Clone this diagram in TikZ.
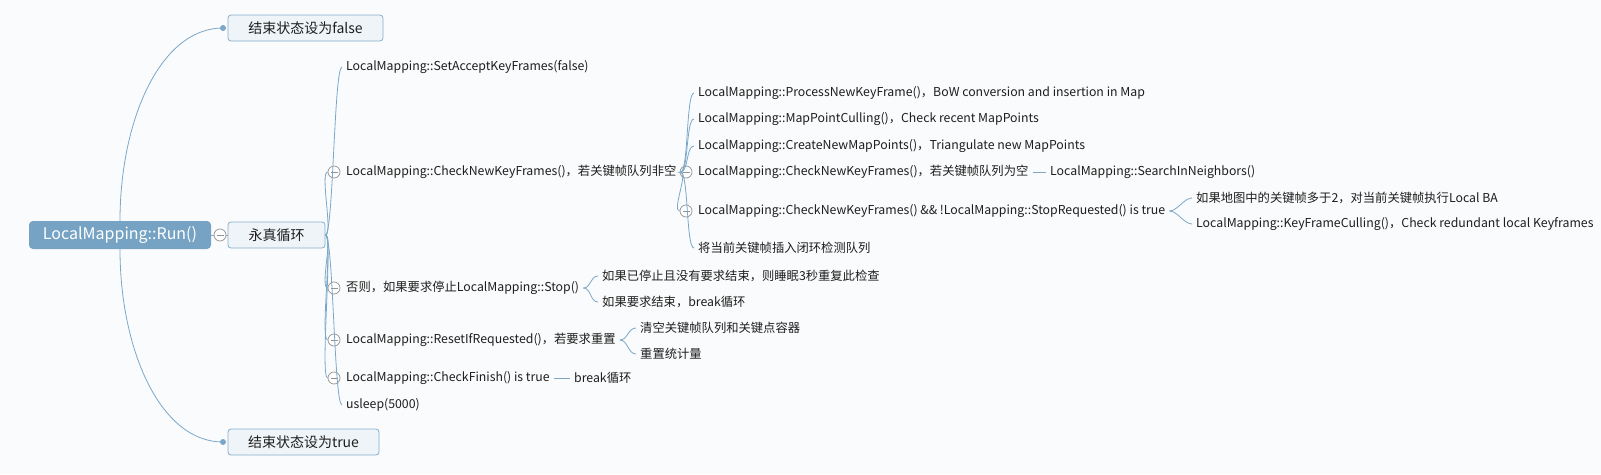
\documentclass[tikz,border=0pt]{standalone}
\usepackage{fontspec}
\setmainfont{Noto Sans CJK SC}
\usetikzlibrary{arrows.meta}
\definecolor{lineblue}{HTML}{7BA7C8}
\definecolor{rootblue}{HTML}{76A3C3}
\definecolor{boxfill}{HTML}{EEF4F8}
\definecolor{boxline}{HTML}{86AFCC}
\definecolor{bgcol}{HTML}{FAFBFC}
\definecolor{ink}{HTML}{1E1E1E}
\tikzset{
  fold/.style={circle, draw=gray!85, fill=white, line width=0.7pt, minimum size=12pt, inner sep=0pt,
    path picture={\draw[gray!85, line width=0.7pt] ([xshift=-3.5pt]path picture bounding box.center) -- ([xshift=3.5pt]path picture bounding box.center);}},
  leaf/.style={anchor=west, inner xsep=4pt, inner ysep=2pt, font=\fontsize{12.3}{14}\selectfont, text=ink},
  topic/.style={draw=boxline, fill=boxfill, rounded corners=3pt, line width=0.8pt, font=\fontsize{14}{16}\selectfont, text=ink, minimum height=26pt},
  dot/.style={circle, fill=lineblue, inner sep=0pt, minimum size=6pt},
  branch/.style={to path={.. controls +(8,0) and +(-8,0) .. (\tikztotarget)}},
  straight/.style={to path={-- (\tikztotarget)}}
}
\begin{document}
\begin{tikzpicture}[x=1pt, y=-1pt]
\fill[bgcol] (0,0) rectangle (1601,474);
\useasboundingbox (0,0) rectangle (1601,474);

\node[fill=rootblue, rounded corners=4pt, text=white, font=\fontsize{16}{18}\selectfont, minimum width=182pt, minimum height=28pt] (R) at (120,235) {LocalMapping::Run()};
\node[topic, minimum width=97pt] (L) at (276.5,235) {永真循环};
\node[topic, minimum width=155pt] (F) at (305.5,28) {结束状态设为false};
\node[topic, minimum width=151pt] (T) at (303.5,442) {结束状态设为true};
\node[dot] (f0) at (223,28) {};
\node[dot] (t0) at (223,442) {};

\begin{scope}[every node/.style={fold}]
    \node (r0) at (220,235) {};
    \node (c1) at (334,172) {};
    \node (c2) at (334,288) {};
    \node (c3) at (334,340) {};
    \node (c4) at (334,378) {};
    \node (c5) at (686,172) {};
    \node (c6) at (686,211) {};
\end{scope}

\begin{scope}[every node/.style={leaf}]
    \node (sa) at (342,67) {LocalMapping::SetAcceptKeyFrames(false)};
    \node (ck) at (342,172) {LocalMapping::CheckNewKeyFrames()，若关键帧队列非空};
    \node (st) at (342,288) {否则，如果要求停止LocalMapping::Stop()};
    \node (rs) at (342,340) {LocalMapping::ResetIfRequested()，若要求重置};
    \node (fn) at (342,378) {LocalMapping::CheckFinish() is true};
    \node (us) at (342,405) {usleep(5000)};

    \node (pn) at (694,93) {LocalMapping::ProcessNewKeyFrame()，BoW conversion and insertion in Map};
    \node (mc) at (694,119) {LocalMapping::MapPointCulling()，Check recent MapPoints};
    \node (cn) at (694,146) {LocalMapping::CreateNewMapPoints()，Triangulate new MapPoints};
    \node (em) at (694,172) {LocalMapping::CheckNewKeyFrames()，若关键帧队列为空};
    \node (sr) at (694,211) {LocalMapping::CheckNewKeyFrames() \&\& !LocalMapping::StopRequested() is true};
    \node (lc) at (694,248) {将当前关键帧插入闭环检测队列};

    \node (sn) at (1046,172) {LocalMapping::SearchInNeighbors()};
    \node (ba) at (1192,198) {如果地图中的关键帧多于2，对当前关键帧执行Local BA};
    \node (kf) at (1192,224) {LocalMapping::KeyFrameCulling()，Check redundant local Keyframes};

    \node (s1) at (598,276) {如果已停止且没有要求结束，则睡眠3秒重复此检查};
    \node (s2) at (598,302) {如果要求结束，break循环};
    \node (e1) at (636,328) {清空关键帧队列和关键点容器};
    \node (e2) at (636,354) {重置统计量};
    \node (bk) at (570,378) {break循环};
\end{scope}

\begin{scope}[every edge/.style={draw=lineblue, line width=0.8pt, branch}]
    \path (R.north) edge[to path={.. controls +(0,-100) and +(-63,0) .. (\tikztotarget)}] (f0.center);
    \path (R.south) edge[to path={.. controls +(0,100) and +(-63,0) .. (\tikztotarget)}] (t0.center);
    \path (R) edge[straight] (r0);
    \path (r0) edge[straight] (L);

    \path (L.east) edge (sa.west);
    \path (L.east) edge (c1.west);
    \path (L.east) edge (c2.west);
    \path (L.east) edge (c3.west);
    \path (L.east) edge (c4.west);
    \path (L.east) edge (us.west);

    \path (ck.east) edge (pn.west);
    \path (ck.east) edge (mc.west);
    \path (ck.east) edge (cn.west);
    \path (ck.east) edge (c5.west);
    \path (ck.east) edge (c6.west);
    \path (ck.east) edge (lc.west);

    \path (em.east) edge[straight] (sn.west);
    \path (sr.east) edge (ba.west);
    \path (sr.east) edge (kf.west);

    \path (st.east) edge (s1.west);
    \path (st.east) edge (s2.west);
    \path (rs.east) edge (e1.west);
    \path (rs.east) edge (e2.west);
    \path (fn.east) edge[straight] (bk.west);
\end{scope}
\end{tikzpicture}
\end{document}
